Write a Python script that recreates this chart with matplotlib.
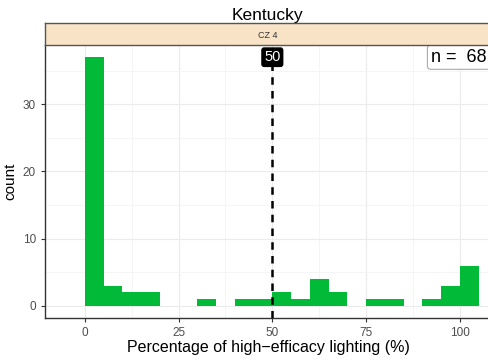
import numpy as np
import matplotlib
matplotlib.use("Agg")
import matplotlib.pyplot as plt

plt.rcParams["font.family"] = ["Liberation Sans", "DejaVu Sans"]

# histogram bins (width 5) and counts
bin_left = [0, 5, 10, 15, 30, 40, 45, 50, 55, 60, 65, 75, 80, 90, 95, 100]
counts = [37, 3, 2, 2, 1, 1, 1, 2, 1, 4, 2, 1, 1, 1, 3, 6]
bin_width = 5
median_val = 50
n_total = 68
x_ticks = [0, 25, 50, 75, 100]
y_ticks = [0, 10, 20, 30]

fig = plt.figure(figsize=(4.88, 3.6), dpi=100)
ax = fig.add_axes([0.0922, 0.1167, 0.914, 0.758])

ax.bar(bin_left, counts, width=bin_width, align="edge", color="#00BA38", zorder=3)

ax.set_xlim(-10.6, 108.3)
ax.set_ylim(-1.8, 38.8)
ax.set_xticks(x_ticks)
ax.set_yticks(y_ticks)
ax.set_xticks([12.5, 37.5, 62.5, 87.5], minor=True)
ax.set_yticks([5, 15, 25, 35], minor=True)
ax.grid(which="major", color="#EBEBEB", lw=0.8, zorder=0)
ax.grid(which="minor", color="#F4F4F4", lw=0.6, zorder=0)
ax.tick_params(which="minor", length=0)
ax.tick_params(which="major", length=3, color="#333333", labelsize=8.5, labelcolor="#4D4D4D")

for s in ["top", "right"]:
    ax.spines[s].set_visible(False)
for s in ["left", "bottom"]:
    ax.spines[s].set_color("#333333")
    ax.spines[s].set_linewidth(1.0)

# median line + label
ax.axvline(median_val, color="black", lw=1.8, ls=(0, (3, 2.5)), zorder=4)
ax.text(median_val, 37.0, str(median_val), ha="center", va="center", color="white",
        fontsize=10.5, zorder=5,
        bbox=dict(boxstyle="round,pad=0.15", fc="black", ec="black"))
ax.text(92.3, 37.0, f"n =  {n_total}", ha="left", va="center", fontsize=13, zorder=5,
        bbox=dict(boxstyle="round,pad=0.2", fc="white", ec="#AAAAAA", lw=0.8))

ax.set_xlabel("Percentage of high\u2212efficacy lighting (%)", fontsize=11.5, labelpad=1)
ax.set_ylabel("count", fontsize=11, labelpad=4)

# facet strip
strip = fig.add_axes([0.0922, 0.875, 0.914, 0.061])
strip.set_facecolor("#F9E3C6")
strip.set_xticks([])
strip.set_yticks([])
for s in strip.spines.values():
    s.set_color("#555555")
    s.set_linewidth(1.0)
strip.text(0.5, 0.45, "CZ 4", ha="center", va="center", fontsize=6.5, color="#333333",
           transform=strip.transAxes)

fig.text(0.549, 0.958, "Kentucky", ha="center", va="center", fontsize=12.5)

fig.savefig("out.png", dpi=100)
